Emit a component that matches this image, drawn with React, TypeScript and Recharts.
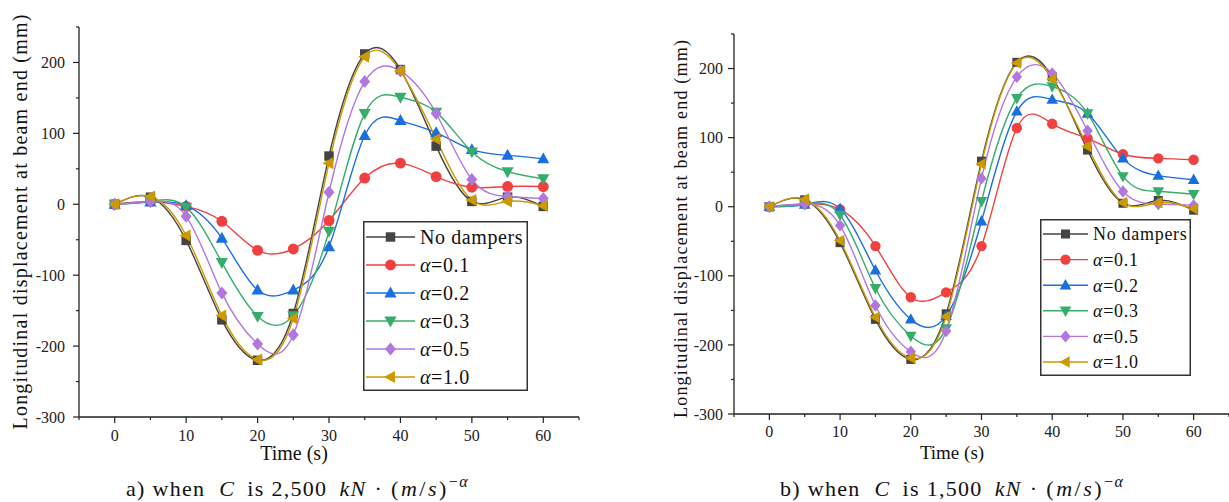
import { LineChart, Line, XAxis, YAxis, Legend } from "recharts";

const TIME = [0, 5, 10, 15, 20, 25, 30, 35, 40, 45, 50, 55, 60];

// a) C = 2,500 kN·(m/s)^-α
const A_NONE = [0, 10, -51, -163, -220, -154, 68, 212, 190, 82, 4, 10, -3];
const A_01 = [0, 4, -3, -24, -65, -63, -23, 37, 58, 39, 24, 25, 25];
const A_02 = [0, 3, -2, -48, -121, -121, -60, 97, 118, 101, 77, 69, 64];
const A_03 = [0, 4, -4, -82, -158, -157, -38, 128, 151, 130, 74, 46, 36];
const A_05 = [0, 4, -17, -125, -197, -184, 17, 173, 188, 128, 35, 11, 8];
const A_10 = [0, 11, -44, -157, -219, -161, 58, 208, 188, 92, 6, 4, -2];

// b) C = 1,500 kN·(m/s)^-α
const B_NONE = [0, 10, -52, -163, -221, -155, 66, 209, 188, 82, 5, 9, -5];
const B_01 = [0, 4, -4, -57, -131, -124, -57, 114, 120, 99, 76, 70, 68];
const B_02 = [0, 3, -3, -92, -163, -158, -21, 138, 155, 135, 70, 45, 39];
const B_03 = [0, 3, -12, -118, -187, -176, 8, 157, 174, 135, 44, 22, 18];
const B_05 = [0, 4, -27, -143, -210, -180, 41, 188, 193, 110, 22, 4, 2];
const B_10 = [0, 11, -49, -160, -219, -159, 62, 208, 185, 87, 6, 6, -3];

const NAMES = ["No dampers", "α=0.1", "α=0.2", "α=0.3", "α=0.5", "α=1.0"];
const KEYS = ["s0", "s1", "s2", "s3", "s4", "s5"];
const COLORS = ["#444444", "#F14040", "#1A6FDF", "#37AD6B", "#B177DE", "#CC9900"];
const SHAPES = ["square", "circle", "up", "down", "diamond", "left"];

const Y_TICKS = [-300, -250, -200, -150, -100, -50, 0, 50, 100, 150, 200, 250];
const X_TICKS = [-5, 0, 5, 10, 15, 20, 25, 30, 35, 40, 45, 50, 55, 60, 65];

const FONT = "'Liberation Serif', 'DejaVu Serif', serif";
const AXIS = "#222";
const H = 480;

const rowsOf = (series: number[][]) =>
  TIME.map((t, i) => {
    const r: any = { t };
    series.forEach((s, k) => (r[KEYS[k]] = s[i]));
    return r;
  });

const ROWS_A = rowsOf([A_NONE, A_01, A_02, A_03, A_05, A_10]);
const ROWS_B = rowsOf([B_NONE, B_01, B_02, B_03, B_05, B_10]);

function Marker({ shape, cx, cy, color, s }: any) {
  if (cx == null || cy == null) return null;
  switch (shape) {
    case "square":
      return <rect x={cx - s * 0.45} y={cy - s * 0.45} width={s * 0.9} height={s * 0.9} fill={color} />;
    case "circle":
      return <circle cx={cx} cy={cy} r={s * 0.52} fill={color} />;
    case "up":
      return <polygon points={`${cx},${cy - s * 0.62} ${cx - s * 0.58},${cy + s * 0.42} ${cx + s * 0.58},${cy + s * 0.42}`} fill={color} />;
    case "down":
      return <polygon points={`${cx},${cy + s * 0.62} ${cx - s * 0.58},${cy - s * 0.42} ${cx + s * 0.58},${cy - s * 0.42}`} fill={color} />;
    case "diamond":
      return <polygon points={`${cx},${cy - s * 0.62} ${cx + s * 0.52},${cy} ${cx},${cy + s * 0.62} ${cx - s * 0.52},${cy}`} fill={color} />;
    default:
      return <polygon points={`${cx - s * 0.62},${cy} ${cx + s * 0.42},${cy - s * 0.58} ${cx + s * 0.42},${cy + s * 0.58}`} fill={color} />;
  }
}

const yTick = (gap: number, fs: number) => ({ x, y, payload }: any) => {
  const v = payload.value;
  const major = v % 100 === 0;
  return (
    <g>
      <line x1={x} x2={x - (major ? 6 : 3)} y1={y} y2={y} stroke={AXIS} strokeWidth={1.2} />
      {major && (
        <text x={x - gap} y={y} dy="0.35em" textAnchor="end" fontSize={fs} fontFamily={FONT} fill="#222">
          {v}
        </text>
      )}
    </g>
  );
};

const xTick = (gap: number, fs: number) => ({ x, y, payload }: any) => {
  const v = payload.value;
  const major = v % 10 === 0 && v >= 0 && v <= 60;
  return (
    <g>
      <line x1={x} x2={x} y1={y} y2={y + (major ? 6 : 3)} stroke={AXIS} strokeWidth={1.2} />
      {major && (
        <text x={x} y={y + gap} dy="0.35em" textAnchor="middle" fontSize={fs} fontFamily={FONT} fill="#222">
          {v}
        </text>
      )}
    </g>
  );
};

function legendContent(lay: any) {
  return ({ payload }: any) => {
    const items = [...(payload || [])].sort((a, b) => KEYS.indexOf(a.dataKey) - KEYS.indexOf(b.dataKey));
    return (
      <svg width={lay.w} height={lay.h} style={{ display: "block" }}>
        <rect x={0.75} y={0.75} width={lay.w - 1.5} height={lay.h - 1.5} fill="#fff" stroke="#333" strokeWidth={1.5} />
        {items.map((it: any, i: number) => {
          const k = KEYS.indexOf(it.dataKey);
          const cy = lay.first + i * lay.step;
          const name = NAMES[k];
          return (
            <g key={it.dataKey}>
              <line x1={lay.x1} x2={lay.x2} y1={cy} y2={cy} stroke={it.color} strokeWidth={1.4} />
              <Marker shape={SHAPES[k]} cx={(lay.x1 + lay.x2) / 2} cy={cy} color={it.color} s={lay.ms} />
              <text x={lay.tx} y={cy} dy="0.35em" fontSize={lay.fs} fontFamily={FONT} fill="#111" letterSpacing={lay.ls}>
                {name.startsWith("α") ? (
                  <>
                    <tspan fontStyle="italic">α</tspan>
                    {name.slice(1)}
                  </>
                ) : (
                  name
                )}
              </text>
            </g>
          );
        })}
      </svg>
    );
  };
}

function Panel({ rows, cfg }: any) {
  return (
    <div style={{ position: "absolute", left: cfg.left, top: 0 }}>
      <LineChart width={cfg.width} height={H} data={rows} margin={cfg.margin}>
        <XAxis
          dataKey="t"
          type="number"
          domain={[-5, 65]}
          ticks={X_TICKS}
          interval={0}
          height={40}
          tickSize={0}
          tickMargin={0}
          tickLine={false}
          axisLine={{ stroke: AXIS, strokeWidth: 1.3 }}
          tick={xTick(cfg.xGap, cfg.tickFs)}
          label={() => (
            <text x={cfg.xTitle[0]} y={cfg.xTitle[1]} dy="0.35em" textAnchor="middle" fontSize={cfg.xTitleFs} fontFamily={FONT} fill="#111">
              Time (s)
            </text>
          )}
        />
        <YAxis
          type="number"
          domain={[-300, 250]}
          ticks={Y_TICKS}
          interval={0}
          width={50}
          tickSize={0}
          tickMargin={0}
          tickLine={false}
          axisLine={{ stroke: AXIS, strokeWidth: 1.3 }}
          tick={yTick(cfg.yGap, cfg.tickFs)}
          label={() => (
            <text
              x={cfg.yTitle[0]}
              y={cfg.yTitle[1]}
              dy="0.35em"
              textAnchor="middle"
              transform={`rotate(-90 ${cfg.yTitle[0]} ${cfg.yTitle[1]})`}
              fontSize={cfg.yTitleFs}
              fontFamily={FONT}
              fill="#111"
              textLength={cfg.yTitleLen}
              lengthAdjust="spacing"
            >
              Longitudinal displacement at beam end (mm)
            </text>
          )}
        />
        <Legend
          layout="vertical"
          align="center"
          verticalAlign="middle"
          wrapperStyle={{ left: cfg.legend.left, top: cfg.legend.top, width: cfg.legend.w, height: cfg.legend.h }}
          content={legendContent(cfg.legend)}
        />
        {KEYS.map((k, i) => (
          <Line
            key={k}
            name={NAMES[i]}
            dataKey={k}
            type="natural"
            stroke={COLORS[i]}
            strokeWidth={1.4}
            isAnimationActive={false}
            activeDot={false}
            dot={(p: any) => <Marker key={`${k}-${p.index}`} shape={SHAPES[i]} cx={p.cx} cy={p.cy} color={COLORS[i]} s={cfg.ms} />}
          />
        ))}
      </LineChart>
    </div>
  );
}

const CFG_A = {
  left: 0,
  width: 600,
  margin: { top: 27, right: 21, bottom: H - 417 - 40, left: 29 },
  xGap: 18,
  yGap: 14,
  tickFs: 16,
  ms: 10.5,
  xTitle: [294, 453],
  xTitleFs: 20,
  yTitle: [20, 222],
  yTitleFs: 20,
  yTitleLen: 415,
  legend: { left: 363, top: 221, w: 165, h: 170, first: 16, step: 28, x1: 3, x2: 52, tx: 57, fs: 20, ls: 0.6, ms: 10.5 },
};

const CFG_B = {
  left: 620,
  width: 609,
  margin: { top: 34, right: 0, bottom: H - 414 - 40, left: 64 },
  xGap: 17,
  yGap: 11,
  tickFs: 16,
  ms: 10,
  xTitle: [332, 452],
  xTitleFs: 19,
  yTitle: [61, 229],
  yTitleFs: 18,
  yTitleLen: 378,
  legend: { left: 420, top: 219, w: 151, h: 157, first: 15, step: 25.6, x1: 3, x2: 48, tx: 53, fs: 18, ls: 0.7, ms: 10 },
};

const capStyle: any = {
  position: "absolute",
  top: 477,
  height: 24,
  fontSize: 22,
  fontFamily: FONT,
  whiteSpace: "nowrap",
  color: "#111",
  letterSpacing: 1.3,
  lineHeight: "24px",
};

function Caption({ left, tag, value }: any) {
  return (
    <div style={{ ...capStyle, left }}>
      {tag} when<i style={{ margin: "0 12px 0 14px" }}>C</i>is {value}
      <i style={{ marginLeft: 12 }}>kN</i>
      <span style={{ margin: "0 8px" }}>·</span>
      <span style={{ letterSpacing: 2.5 }}>
        (<i>m</i>/<i>s</i>)
      </span>
      <span style={{ fontSize: 16, position: "relative", top: -9 }}>
        −<i>α</i>
      </span>
    </div>
  );
}

export default function App() {
  return (
    <div style={{ position: "absolute", left: 0, top: 0, width: 1229, height: 502, background: "#fff", overflow: "hidden" }}>
      <Panel rows={ROWS_A} cfg={CFG_A} />
      <Panel rows={ROWS_B} cfg={CFG_B} />
      <Caption left={126} tag="a)" value="2,500" />
      <Caption left={780} tag="b)" value="1,500" />
    </div>
  );
}
